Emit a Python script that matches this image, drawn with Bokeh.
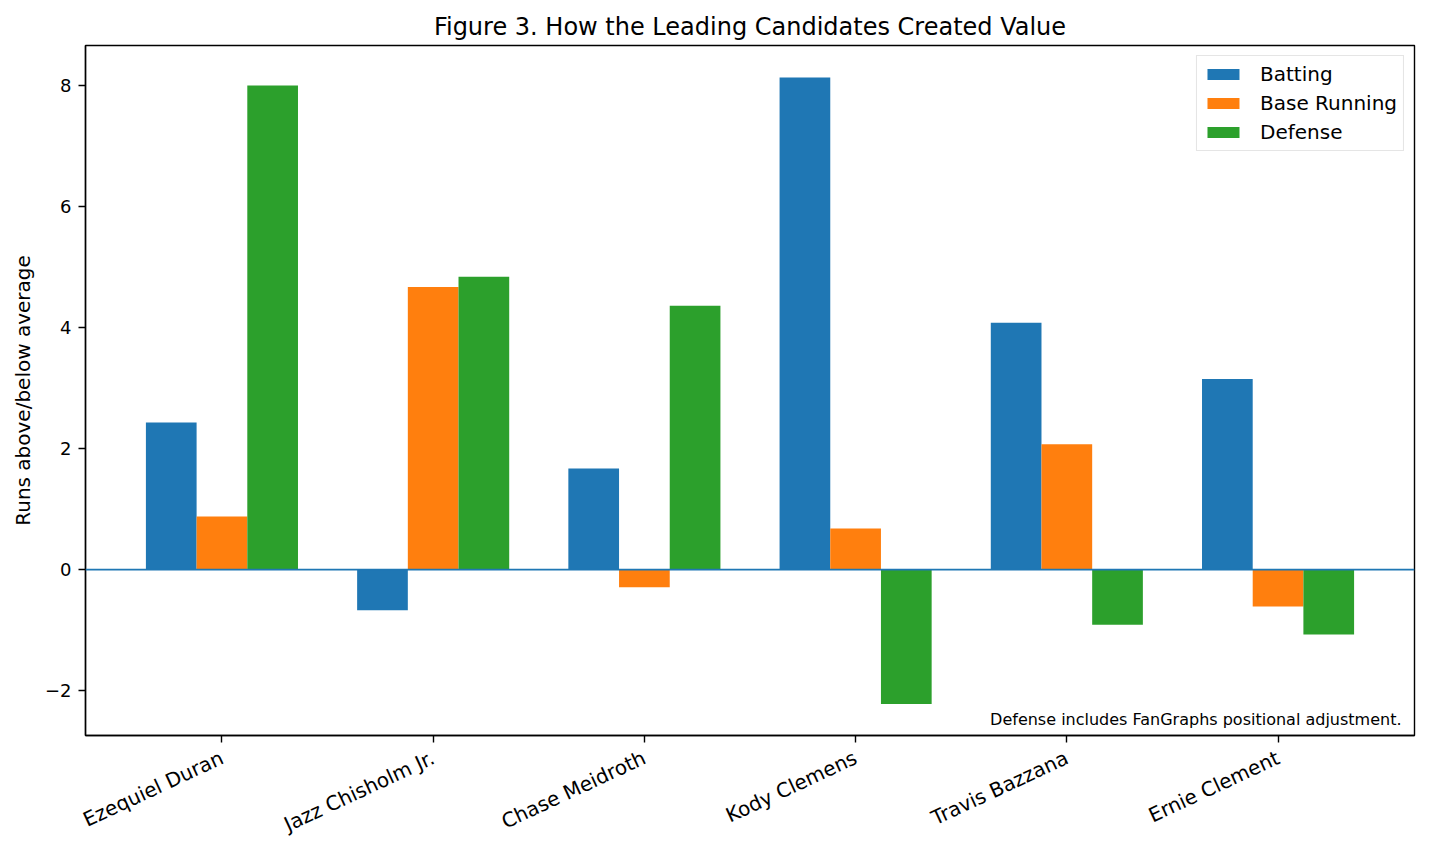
import math
from bokeh.plotting import figure
from bokeh.models import (FactorRange, Range1d, FixedTicker, Span, Label,
                          ColumnDataSource, Legend, LegendItem)
from bokeh.transform import dodge
from bokeh.embed import file_html
from bokeh.resources import INLINE

# ---- data ----
players = ["Ezequiel Duran", "Jazz Chisholm Jr.", "Chase Meidroth",
           "Kody Clemens", "Travis Bazzana", "Ernie Clement"]
batting = [2.43, -0.67, 1.67, 8.13, 4.08, 3.15]
base_running = [0.88, 4.67, -0.29, 0.68, 2.07, -0.61]
defense = [8.00, 4.84, 4.36, -2.22, -0.91, -1.07]
series_names = ["Batting", "Base Running", "Defense"]
y_ticks = [-2, 0, 2, 4, 6, 8]
title_text = "Figure 3. How the Leading Candidates Created Value"
y_label = "Runs above/below average"
note_text = "Defense includes FanGraphs positional adjustment."

# ---- style ----
FONT = "DejaVu Sans"
colors = ["#1f77b4", "#ff7f0e", "#2ca02c"]
fields = ["batting", "base_running", "defense"]
BAR_W = 0.24
offsets = [-BAR_W, 0.0, BAR_W]
FRAME_W, FRAME_H = 1329, 690

src = ColumnDataSource(dict(player=players, batting=batting,
                            base_running=base_running, defense=defense))

x_range = FactorRange(factors=players, range_padding=0.146,
                      range_padding_units="absolute")
p = figure(x_range=x_range, y_range=Range1d(-2.74, 8.66),
           frame_width=FRAME_W, frame_height=FRAME_H,
           min_border_left=0, min_border_top=0, min_border_right=2,
           min_border_bottom=0,
           output_backend="svg", toolbar_location=None, title=title_text)
p.margin = (5, 0, 0, 7)

items = []
for f, off, c, name in zip(fields, offsets, colors, series_names):
    r = p.vbar(x=dodge("player", off, range=p.x_range), top=f, width=BAR_W,
               source=src, fill_color=c, line_color=None)
    items.append(LegendItem(label=name, renderers=[r]))

p.add_layout(Span(location=0, dimension="width", line_color=colors[0],
                  line_width=1.6))

legend = Legend(items=items, location="top_right",
                label_text_font=FONT, label_text_font_size="20px",
                label_text_color="black",
                glyph_width=40, glyph_height=14, label_standoff=17,
                padding=6, spacing=5, label_height=24, margin=10,
                border_line_color="#cccccc", border_line_width=1.4,
                background_fill_alpha=0.8)
p.add_layout(legend)

p.add_layout(Label(x=FRAME_W - 13, y=7, x_units="screen", y_units="screen",
                   text=note_text, text_align="right", text_baseline="bottom",
                   text_font=FONT, text_font_size="16px", text_color="black"))

for ax in (p.xaxis[0], p.yaxis[0]):
    ax.axis_line_color = "black"
    ax.axis_line_width = 1.4
    ax.major_tick_line_color = "black"
    ax.major_tick_line_width = 1.4
    ax.major_tick_out = 7
    ax.major_tick_in = 0
    ax.minor_tick_line_color = None
    ax.major_label_text_font = FONT
    ax.major_label_text_color = "black"

p.yaxis.major_label_text_font_size = "18px"
p.xaxis.major_label_text_font_size = "20px"

p.yaxis.ticker = FixedTicker(ticks=y_ticks)
p.yaxis.major_label_overrides = {t: str(t).replace("-", "\u2212") for t in y_ticks}
p.yaxis.major_label_standoff = 7
p.yaxis.axis_label = y_label
p.yaxis.axis_label_text_font = FONT
p.yaxis.axis_label_text_font_size = "20px"
p.yaxis.axis_label_text_font_style = "normal"
p.yaxis.axis_label_text_color = "black"
p.yaxis.axis_label_standoff = 7

p.xaxis.major_label_orientation = math.radians(25)
p.xaxis.major_label_standoff = 14

p.xgrid.visible = False
p.ygrid.visible = False
p.outline_line_color = "black"
p.outline_line_width = 1.4
p.outline_line_alpha = 1.0

p.title.align = "center"
p.title.text_font = FONT
p.title.text_font_size = "24px"
p.title.text_font_style = "normal"
p.title.text_color = "black"

open("out.html", "w").write(file_html(p, INLINE))
